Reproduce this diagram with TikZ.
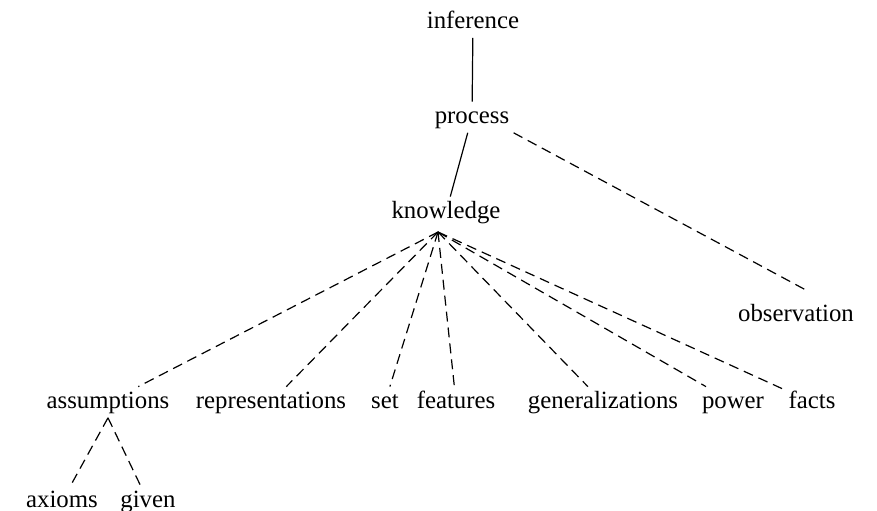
\documentclass[tikz,border=0pt]{standalone}
\usepackage{fontspec}
\setmainfont{Liberation Serif}

\begin{document}
\begin{tikzpicture}[x=0.5pt,y=-0.5pt,
	word/.style={anchor=base,inner sep=2pt,text height=8.5pt,text depth=2.7pt,
		font=\fontsize{12.4}{14}\selectfont},
	link/.style={line width=0.6pt},
	dlink/.style={line width=0.6pt,dash pattern=on 5pt off 3pt}]
	\useasboundingbox (0,0) rectangle (877,510);

	%top of the tree
	\node[word] (inference)   at (473,28)  {inference};
	\node[word] (process)     at (472,123) {process};
	\node[word] (knowledge)   at (446,218) {knowledge};
	\node[word] (observation) at (796,321) {observation};

	%bottom row
	\node[word] (assumptions)     at (108,408) {assumptions};
	\node[word] (representations) at (271,408) {representations};
	\node[word] (set)             at (385,408) {set};
	\node[word] (features)        at (456,408) {features};
	\node[word] (generalizations) at (603,408) {generalizations};
	\node[word] (power)           at (733,408) {power};
	\node[word] (facts)           at (812,408) {facts};

	%under assumptions
	\node[word] (axioms) at (62,507)  {axioms};
	\node[word] (given)  at (148,507) {given};

	\coordinate (kn) at (438,232);
	\coordinate (obs) at ([shift={(11,-9)}]observation.north);

	\draw[link] (inference) -- (process);
	\draw[link] (process) -- (knowledge);
	\draw[dlink] (process.south east) -- (obs);

	%fan out of knowledge
	\foreach \w in {assumptions,representations,set,features,generalizations,power,facts}
		\draw[dlink] (kn) -- (\w);

	\draw[dlink] (assumptions.south) -- (axioms);
	\draw[dlink] (assumptions.south) -- (given);
\end{tikzpicture}
\end{document}
